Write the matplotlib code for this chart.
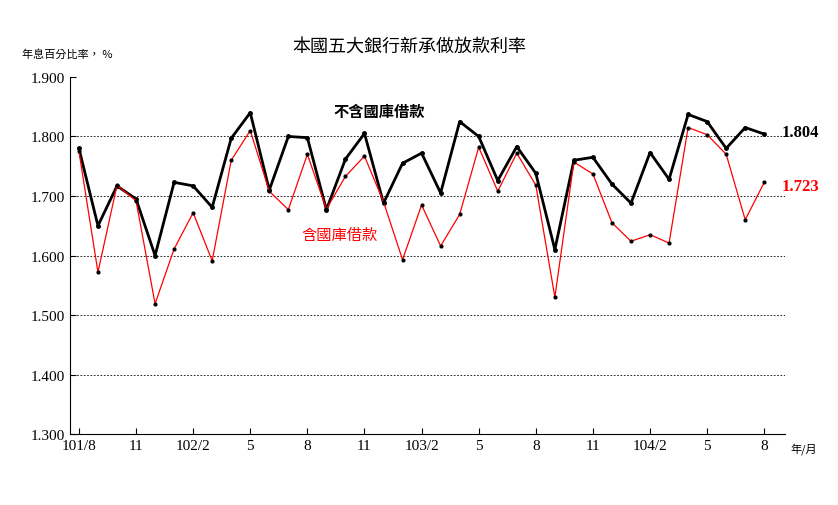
import matplotlib
matplotlib.use("Agg")
import matplotlib.pyplot as plt

black_vals = [1.780,1.650,1.717,1.695,1.600,1.723,1.717,1.681,1.797,1.840,1.710,1.800,1.798,1.677,1.762,1.805,1.688,1.755,1.772,1.705,1.825,1.800,1.726,1.783,1.738,1.610,1.760,1.765,1.720,1.688,1.773,1.728,1.837,1.825,1.780,1.815,1.804]
red_vals = [1.775,1.572,1.718,1.692,1.519,1.611,1.672,1.591,1.760,1.810,1.708,1.677,1.770,1.678,1.733,1.767,1.690,1.593,1.685,1.616,1.669,1.782,1.708,1.772,1.718,1.530,1.757,1.737,1.655,1.624,1.635,1.621,1.815,1.803,1.770,1.660,1.723]
tick_labels = ["101/8","11","102/2","5","8","11","103/2","5","8","11","104/2","5","8"]

cjk = "Noto Sans CJK TC"
serif = "Liberation Serif"

fig = plt.figure(figsize=(8.38,5.06), dpi=100)
ax = fig.add_axes([0.0835,0.140,0.8535,0.706])
x = list(range(len(black_vals)))
ax.plot(x, black_vals, color="black", lw=2, marker="o", ms=2.5, zorder=3)
ax.plot(x, red_vals, color="red", lw=0.9, marker="o", ms=2, mfc="black", mec="black", zorder=4)
ax.set_xlim(-0.47, 37.1)
ax.set_ylim(1.3, 1.9)
yt = [1.3+0.1*i for i in range(7)]
ax.set_yticks(yt)
ax.set_yticklabels([f"{v:.3f}" for v in yt], fontfamily=serif, fontsize=11)
for v in yt[1:-1]:
    ax.axhline(v, color="black", lw=0.6, ls=(0,(2,2)), zorder=1)
ax.set_xticks(range(0, len(black_vals), 3))
ax.set_xticklabels(tick_labels, fontfamily=serif, fontsize=11)
ax.tick_params(direction="in", length=4)
for s in ["top","right"]:
    ax.spines[s].set_visible(False)

fig.text(409/838, 1-47/506, "本國五大銀行新承做放款利率", ha="center", va="center", fontfamily=cjk, fontsize=13)
fig.text(22/838, 1-55/506, "年息百分比率， %", ha="left", va="center", fontfamily=cjk, fontsize=8)
fig.text(790/838, 1-449/506, "年/月", ha="left", va="center", fontfamily=cjk, fontsize=8)
ax.text(15.8, 1.843, "不含國庫借款", fontfamily=cjk, fontsize=11, fontweight="bold", ha="center", va="center")
ax.text(13.7, 1.636, "含國庫借款", fontfamily=cjk, fontsize=11, color="red", ha="center", va="center")
ax.text(36.9, black_vals[-1]+0.004, f"{black_vals[-1]:.3f}", fontfamily=serif, fontsize=12, fontweight="bold", va="center", clip_on=False)
ax.text(36.9, red_vals[-1]-0.006, f"{red_vals[-1]:.3f}", fontfamily=serif, fontsize=12, fontweight="bold", color="red", va="center", clip_on=False)
fig.savefig("out.png", dpi=100)
